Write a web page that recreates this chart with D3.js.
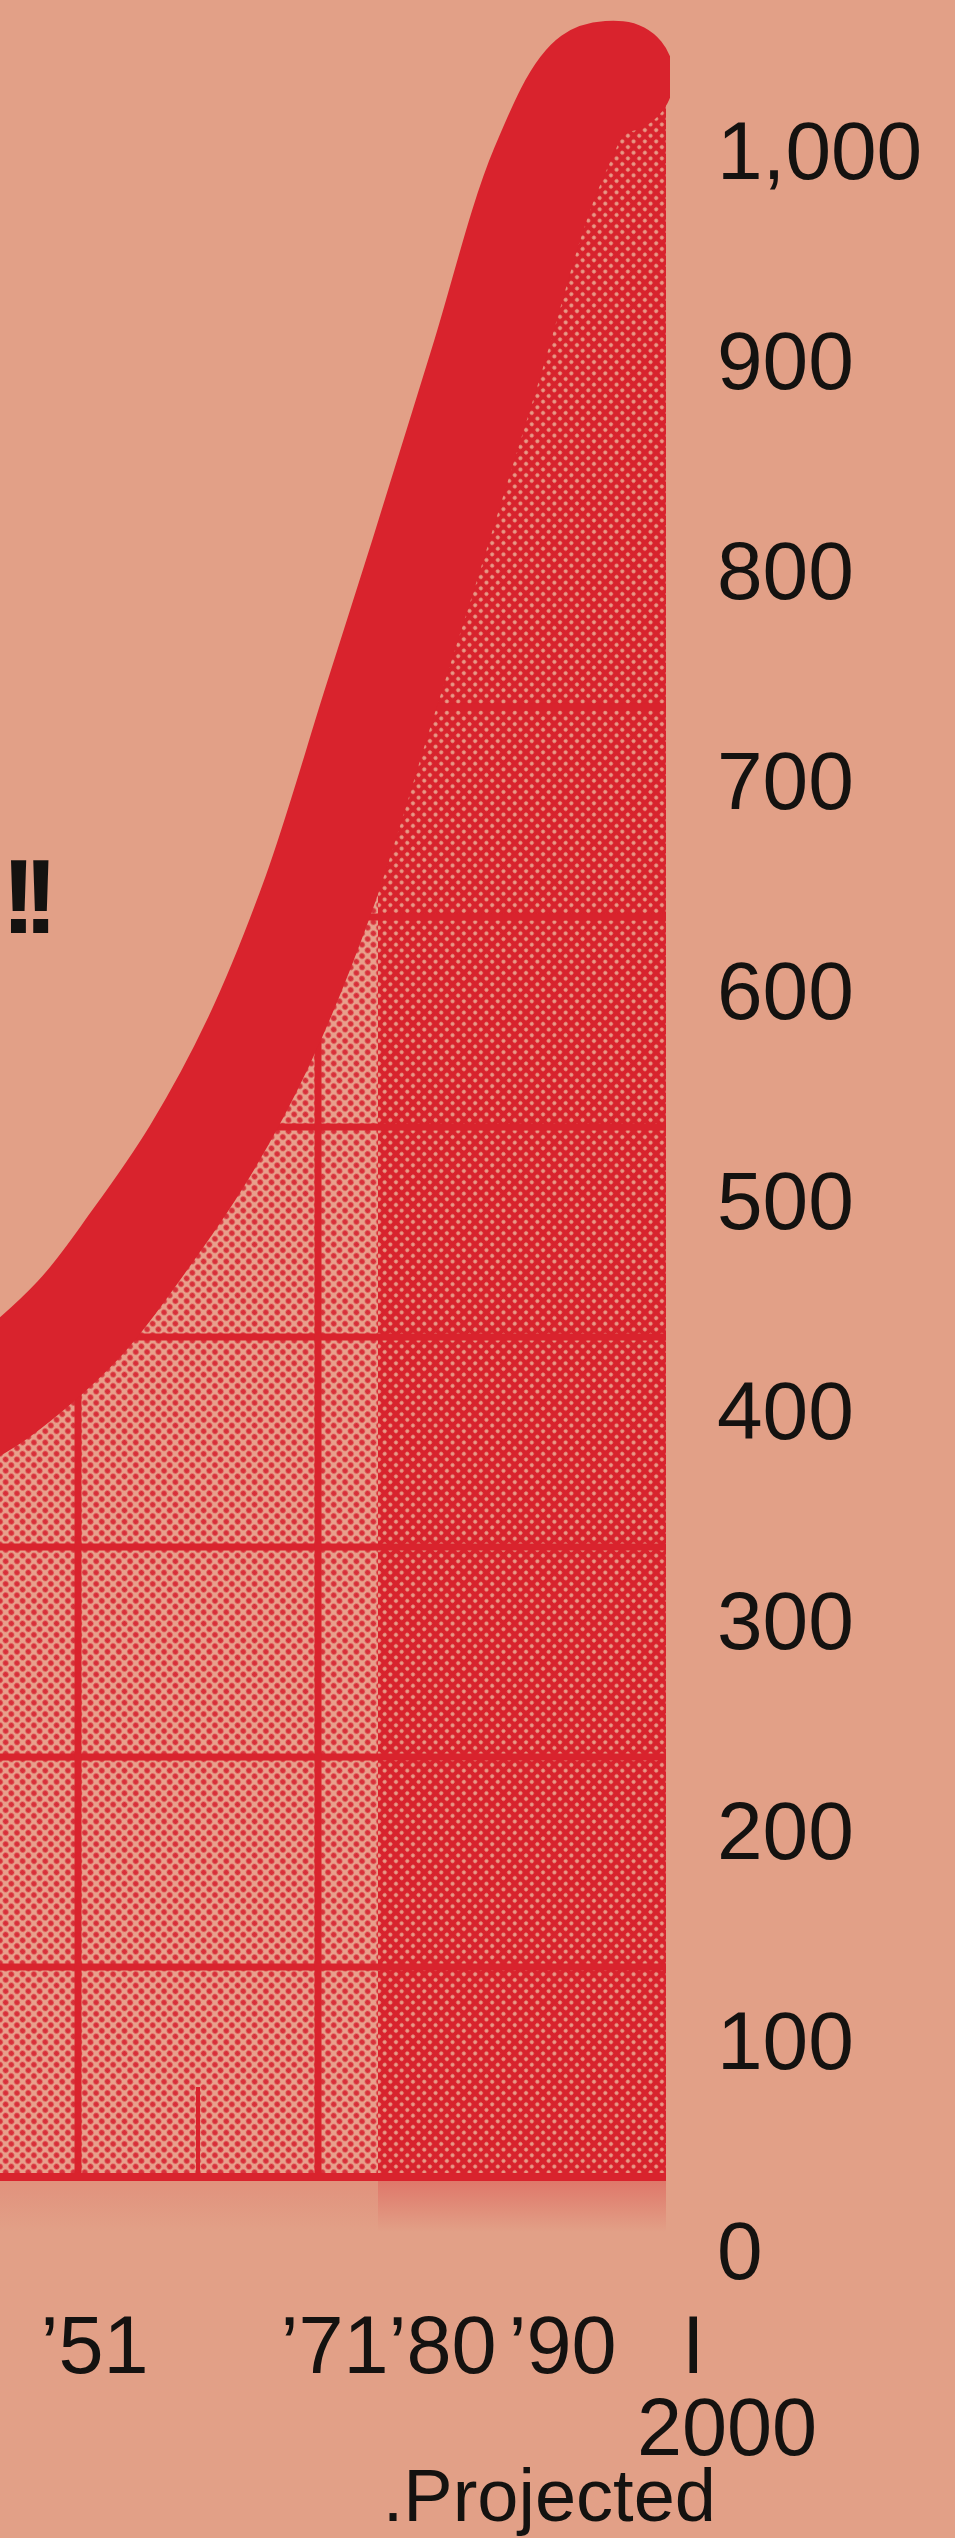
<!DOCTYPE html>
<html>
<head>
<meta charset="utf-8">
<script src="https://cdn.jsdelivr.net/npm/d3@7"></script>
<style>
  html, body { margin: 0; padding: 0; background: #e2a087; }
  svg { display: block; }
</style>
</head>
<body>
<div id="chart"></div>
<script>
// Population curve (millions)
const years      = [1940, 1944, 1951, 1956, 1961, 1966, 1971, 1976, 1980, 1985, 1990, 1994, 1996, 2000];
const population = [ 360,  373,  408,  445,  487,  540,  610,  700,  772,  864,  956,  998, 1000,  990];

// the thick band stops here, the shading runs on to 2000
const bandEndYear = 1996;
// projection shading starts here
const projectedFrom = 1976;

// axis labels
const yTicks = [0, 100, 200, 300, 400, 500, 600, 700, 800, 900, 1000];
const xLabelYears = [1951, 1971, 1980, 1990];
const xLabelText = ["\u201951", "\u201971", "\u201980", "\u201990"];

// grid
const gridValues = [0, 100, 200, 300, 400, 500, 600, 700];
const gridYears = [1951, 1971];
const shortTickYear = 1961;

const data = years.map((d, i) => ({ year: d, value: population[i] }));
const bandData = data.filter(d => d.year <= bandEndYear);

// 1) canvas
const width = 955, height = 2538;
const font = "'Liberation Sans', Arial, Helvetica, sans-serif";
const red = "#d9232d";
const ink = "#141210";

const svg = d3.select("#chart")
    .append("svg")
    .attr("width", width)
    .attr("height", height);

svg.append("rect")
    .attr("width", width)
    .attr("height", height)
    .attr("fill", "#e2a087");

// 2) scales
var x = d3.scaleLinear()
    .domain([1951, 2000])
    .range([78, 666]);

var y = d3.scaleLinear()
    .domain([0, 1000])
    .range([2177, 77]);

const defs = svg.append("defs");

// halftone patterns
const light = defs.append("pattern")
    .attr("id", "lightDots")
    .attr("patternUnits", "userSpaceOnUse")
    .attr("width", 8).attr("height", 8)
    .attr("patternTransform", "rotate(45)");
light.append("rect").attr("width", 8).attr("height", 8).attr("fill", "#e8a08c");
light.append("circle").attr("cx", 4).attr("cy", 4).attr("r", 2.8).attr("fill", "#d8303a");

const dark = defs.append("pattern")
    .attr("id", "darkDots")
    .attr("patternUnits", "userSpaceOnUse")
    .attr("width", 8).attr("height", 8)
    .attr("patternTransform", "rotate(45)");
dark.append("rect").attr("width", 8).attr("height", 8).attr("fill", "#d8232d");
dark.append("circle").attr("cx", 4).attr("cy", 4).attr("r", 2).attr("fill", "#e89c88");

// fade under the baseline
const fade = defs.append("linearGradient")
    .attr("id", "fade").attr("x1", 0).attr("y1", 0).attr("x2", 0).attr("y2", 1);
fade.append("stop").attr("offset", "0%").attr("stop-color", red).attr("stop-opacity", 0.35);
fade.append("stop").attr("offset", "100%").attr("stop-color", red).attr("stop-opacity", 0);

var curve = d3.curveCatmullRom.alpha(0.5);

var area = d3.area()
    .x(d => x(d.year))
    .y0(y(0))
    .y1(d => y(d.value))
    .curve(curve);

var line = d3.line()
    .x(d => x(d.year))
    .y(d => y(d.value))
    .curve(curve);

defs.append("clipPath").attr("id", "underCurve")
    .append("path").attr("d", area(data));

defs.append("clipPath").attr("id", "clipLight")
    .append("rect")
    .attr("x", x(1940)).attr("y", 0)
    .attr("width", x(projectedFrom) - x(1940))
    .attr("height", y(0));

defs.append("clipPath").attr("id", "clipDark")
    .append("rect")
    .attr("x", x(projectedFrom)).attr("y", 0)
    .attr("width", x(2000) - x(projectedFrom))
    .attr("height", y(0));

defs.append("clipPath").attr("id", "clipBand")
    .append("rect")
    .attr("x", -200).attr("y", 0)
    .attr("width", x(2000) + 4 + 200)
    .attr("height", height);

// 3) area under the curve
svg.append("path")
    .datum(data)
    .attr("clip-path", "url(#clipLight)")
    .attr("fill", "url(#lightDots)")
    .attr("d", area);

svg.append("path")
    .datum(data)
    .attr("clip-path", "url(#clipDark)")
    .attr("fill", "url(#darkDots)")
    .attr("d", area);

// faded print below the baseline
svg.append("rect")
    .attr("x", 0).attr("y", y(0))
    .attr("width", x(projectedFrom))
    .attr("height", 55)
    .attr("fill", "url(#fade)")
    .style("opacity", 0.35);
svg.append("rect")
    .attr("x", x(projectedFrom)).attr("y", y(0))
    .attr("width", x(2000) - x(projectedFrom))
    .attr("height", 55)
    .attr("fill", "url(#fade)");

// 4) grid, only inside the filled area
const grid = svg.append("g").attr("clip-path", "url(#underCurve)");

grid.selectAll("line.h")
    .data(gridValues)
    .enter()
    .append("line")
    .attr("class", "h")
    .attr("x1", x(1940)).attr("x2", x(2000))
    .attr("y1", d => y(d)).attr("y2", d => y(d))
    .attr("stroke", red)
    .attr("stroke-width", 7);

grid.selectAll("line.v")
    .data(gridYears)
    .enter()
    .append("line")
    .attr("class", "v")
    .attr("x1", d => x(d)).attr("x2", d => x(d))
    .attr("y1", y(0)).attr("y2", 0)
    .attr("stroke", red)
    .attr("stroke-width", 7);

// short marker at '61
grid.append("line")
    .attr("x1", x(shortTickYear)).attr("x2", x(shortTickYear))
    .attr("y1", y(0)).attr("y2", y(0) - 90)
    .attr("stroke", red)
    .attr("stroke-width", 4);

// baseline
svg.append("line")
    .attr("x1", 0).attr("x2", x(2000))
    .attr("y1", y(0)).attr("y2", y(0))
    .attr("stroke", red)
    .attr("stroke-width", 8);

// 5) the thick curve
svg.append("path")
    .datum(bandData)
    .attr("clip-path", "url(#clipBand)")
    .attr("fill", "none")
    .attr("stroke", red)
    .attr("stroke-width", 112)
    .attr("stroke-linecap", "round")
    .attr("stroke-linejoin", "round")
    .attr("d", line);

// 6) axes
var yAxis = svg.append("g")
    .attr("transform", "translate(717," + 75 + ")")
    .call(d3.axisRight(y)
        .tickValues(yTicks)
        .tickFormat(d3.format(","))
        .tickSize(0)
        .tickPadding(0));
yAxis.select(".domain").remove();
yAxis.selectAll("text")
    .style("font-family", font)
    .style("font-size", "82px")
    .attr("fill", ink);

var xAxis = svg.append("g")
    .attr("transform", "translate(16," + (y(0) + 138) + ")")
    .call(d3.axisBottom(x)
        .tickValues(xLabelYears)
        .tickFormat((d, i) => xLabelText[i])
        .tickSize(0)
        .tickPadding(0));
xAxis.select(".domain").remove();
xAxis.selectAll("text")
    .style("font-family", font)
    .style("font-size", "81px")
    .attr("fill", ink);

// 2000 marker and note
svg.append("text")
    .attr("x", x(2000) + 16)
    .attr("y", y(0) + 196)
    .text("I")
    .style("font-family", font)
    .style("font-size", "81px")
    .attr("fill", ink);

svg.append("text")
    .attr("text-anchor", "middle")
    .attr("x", x(2000) + 61)
    .attr("y", y(0) + 278)
    .text("2000")
    .style("font-family", font)
    .style("font-size", "81px")
    .attr("fill", ink);

svg.append("text")
    .attr("text-anchor", "end")
    .attr("x", x(2000) + 50)
    .attr("y", y(0) + 344)
    .text(".Projected")
    .style("font-family", font)
    .style("font-size", "74px")
    .attr("fill", ink);

// tail of the headline, at the left edge
svg.append("text")
    .attr("x", 1)
    .attr("y", 933)
    .text("!!")
    .style("font-family", font)
    .style("font-size", "106px")
    .style("font-weight", "bold")
    .style("letter-spacing", "-13px")
    .attr("fill", ink);
</script>
</body>
</html>
